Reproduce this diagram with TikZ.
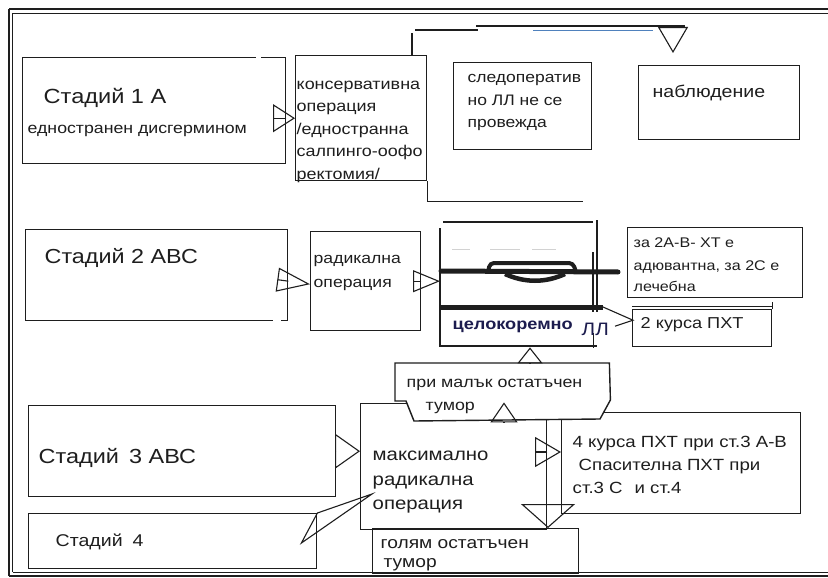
\documentclass[tikz,border=0pt]{standalone}
\usepackage{fontspec}
\setmainfont{Liberation Sans}[FakeStretch=1.15]
\usetikzlibrary{arrows.meta,calc}
\definecolor{ink}{HTML}{1E1E1E}
\definecolor{navy}{HTML}{1C1C4E}
\definecolor{pen}{HTML}{4F81BD}
\newcommand\txs[1]{\fontsize{#1}{#1}\selectfont}
\tikzset{
  box/.style={draw=ink, line width=1.4pt, inner sep=0pt, anchor=north west},
  ghost/.style={inner sep=0pt, anchor=north west},
  lbl/.style={anchor=base west, inner sep=0pt, text=ink},
  tri/.style 2 args={draw=ink, line width=1.1pt, -{Triangle[open, length=#1pt, width=#2pt]}},
}
\begin{document}
\begin{tikzpicture}[x=1pt, y=-1pt, line width=1.4pt, draw=ink]
\useasboundingbox (0,0) rectangle (828,578);
\fill[white] (0,0) rectangle (828,578);

% page frame
\draw[line width=2.6pt] (9,9) -- (828,9);
\draw[line width=0.9pt] (12.5,13.5) -- (828,13.5);
\draw[line width=2.6pt] (9,9) -- (9,576);
\draw[line width=0.9pt] (12.5,13.5) -- (12.5,572);
\draw[line width=0.9pt] (12.5,572) -- (828,572);
\draw[line width=1.2pt] (9,576) -- (828,576);

% boxes
\node[box, minimum width=263pt, minimum height=106pt] (s1) at (22,57) {};
\node[box, minimum width=262pt, minimum height=91pt] (s2) at (25,229) {};
\node[box, minimum width=307pt, minimum height=91pt] (s3) at (28,405) {};
\node[box, minimum width=288pt, minimum height=55pt] (s4) at (28,513) {};
\node[box, minimum width=131pt, minimum height=125pt] (op1) at (295,55) {};
\node[box, minimum width=138pt, minimum height=87pt] (sled) at (453,62) {};
\node[box, minimum width=161pt, minimum height=74pt] (nab) at (638,65) {};
\node[box, minimum width=110pt, minimum height=99pt] (rad) at (310,231) {};
\node[ghost, minimum width=157pt, minimum height=124pt] (mid) at (440,222) {};
\node[box, minimum width=175pt, minimum height=70pt] (za) at (627,227) {};
\node[box, minimum width=139pt, minimum height=37pt] (k2) at (632,309) {};
\node[box, minimum width=239pt, minimum height=101pt] (k4) at (561,412) {};
\node[box, minimum width=186pt, minimum height=126pt] (max) at (360,403) {};
\node[box, minimum width=206pt, minimum height=45pt] (gol) at (372,528) {};
\node[ghost, minimum width=213pt, minimum height=58pt] (mal) at (395,363) {};

% breaks in the stage box outlines
\draw[white, line width=2.5pt] (256,57) -- (261,57);
\draw[white, line width=2.5pt] (273,320) -- (281,320);

% lines leaving the conservative-operation box
\draw ($(op1.north west)+(117,0)$) -- ++(0,-22);
\draw (415,30) -- (478,30);
\draw (476,26) -- (685,26);
\draw[pen, line width=1pt] (533,31) -- (653,31);
\draw (op1.south east) -- ++(0,20) -- ++(156,0);
\draw (k2.north east) -- ++(0,-7);
\draw[line width=1pt] ($(k2.north west)+(0,-3)$) -- ($(k2.north east)+(0,-3)$);

% scribbled middle frame
\draw[line width=1.1pt] (443,222) -- (593,222);
\draw[line width=1.1pt] (440,228) -- (440,346) -- (597,346);
\draw[line width=1.1pt] (597,220) -- (597,312);
\draw[line width=1.8pt] (593,252) -- (593,312);
\draw[line width=1pt] (593,333) -- (593,348);
\draw[gray!35, line width=0.8pt] (452,249) -- (470,249) (490,249) -- (520,249) (532,249) -- (556,249);
\draw[line width=5pt, line cap=round] (441,271) -- (618,272);
\draw[line width=4pt, rounded corners=4pt] (488,272) -- (490,263) -- (573,263) -- (576,272);
\draw[line width=4.5pt] (505,274) .. controls (525,283) and (545,283) .. (565,274);
\coordinate (bar2e) at (603,307);
\draw[line width=5pt] (440,307) -- (bar2e);

% small residual tumour shape
\draw[fill=white, line width=1.4pt] (mal.north west) -- (mal.north east) -- ++(1,37)
  -- (600,419) -- (414,421) -- (406,401) -- (395,401) -- cycle;

% texts
\node[lbl, font=\txs{20.5}] (t1) at (43,103) {Стадий 1 А};
\node[lbl, font=\txs{15.4}] (t1b) at (27,133) {едностранен дисгермином};
\node[lbl, font=\txs{15.6}] (o1) at (296,89) {консервативна};
\node[lbl, font=\txs{15.6}] (o2) at (296,111.5) {операция};
\node[lbl, font=\txs{15.6}] (o3) at (296,134) {/едностранна};
\node[lbl, font=\txs{15.6}] (o4) at (296,156.5) {салпинго-оофо};
\node[lbl, font=\txs{15.6}] (o5) at (296,179) {ректомия/};
\node[lbl, font=\txs{15.2}] (d1) at (467,83) {следоператив};
\node[lbl, font=\txs{15.2}] (d2) at (467,105.5) {но ЛЛ не се};
\node[lbl, font=\txs{15.2}] (d3) at (467,128) {провежда};
\node[lbl, font=\txs{17}] (nt) at (652,98) {наблюдение};
\node[lbl, font=\txs{20.3}] (t2) at (44,263) {Стадий 2 АВС};
\node[lbl, font=\txs{15.3}] (r1) at (313,263) {радикална};
\node[lbl, font=\txs{15.3}] (r2) at (313,287) {операция};
\node[lbl, font=\txs{14}] (z1) at (633,247) {за 2А-В- ХТ е};
\node[lbl, font=\txs{14}] (z2) at (633,270) {адювантна, за 2С е};
\node[lbl, font=\txs{14}] (z3) at (633,291) {лечебна};
\node[lbl, font=\txs{15.8}] (k2t) at (640,328) {2 курса ПХТ};
\node[lbl, font=\bfseries\txs{15.8}, text=navy] (celo) at (452,329) {целокоремно};
\node[lbl, font=\txs{18}, text=navy] (ll) at (581,335) {ЛЛ};
\node[lbl, font=\txs{15.5}] (m1) at (406,387) {при малък остатъчен};
\node[lbl, font=\txs{15.5}] (m2) at (425,410) {тумор};
\node[lbl, font=\txs{17.7}] (x1) at (372,460) {максимално};
\node[lbl, font=\txs{17.7}] (x2) at (372,485) {радикална};
\node[lbl, font=\txs{17.7}] (x3) at (372,509) {операция};
\node[lbl, font=\txs{20.4}] (t3) at (38,463) {Стадий\hspace{10pt}3 АВС};
\node[lbl, font=\txs{17}] (t4) at (55,546) {Стадий\hspace{10pt}4};
\node[lbl, font=\txs{16.2}] (q1) at (572,447) {4 курса ПХТ при ст.3 А-В};
\node[lbl, font=\txs{16.2}] (q2) at (578,470) {Спасителна ПХТ при};
\node[lbl, font=\txs{16.2}] (q3) at (572,493) {ст.3 С\hspace{12pt}и ст.4};
\node[lbl, font=\txs{16.7}] (g1) at (380,548) {голям остатъчен};
\node[lbl, font=\txs{16.7}] (g2) at (383,567) {тумор};

% connectors
\draw[tri={22}{28}] (s1.east |- op1.west) -- (op1.west);
\draw[tri={33}{24}] (s2.east |- rad.west) -- ($(rad.west)+(0,3)$);
\draw[tri={27}{22}] (rad.east) -- (mid.west |- rad.east);
\coordinate (k2in) at ($(k2.west)+(1,-8)$);
\draw[line width=1.1pt] (bar2e) -- (k2in) -- ++(-18,6);
\coordinate (upx) at (530,0);
\draw[tri={16}{25}] (mal.north -| upx) -- (mid.south -| upx);
\coordinate (upx2) at (504,0);
\draw[tri={20}{27}] (mal.south -| upx2) -- ++(0,-20);
\coordinate (ry) at (0,452);
\draw[tri={26}{30}] (max.east |- ry) -- (k4.west |- ry);
\coordinate (dx) at (548,0);
\draw[tri={24}{54}] ($(gol.north -| dx)+(0,-24)$) -- (gol.north -| dx);
\draw[tri={25}{35}] (s3.east) -- (max.west |- s3.east);
\coordinate (s4tip) at (372,494);
\coordinate (s4in) at ($(s4.north east)+(-16,30)$);
\draw[line width=1.1pt] (s4.north east) -- (s4tip) -- (s4in) -- cycle;
\coordinate (vtop) at (673,27);
\draw[tri={26}{30}] (vtop) -- ($(nab.north -| vtop)+(0,-12)$);
\end{tikzpicture}
\end{document}
